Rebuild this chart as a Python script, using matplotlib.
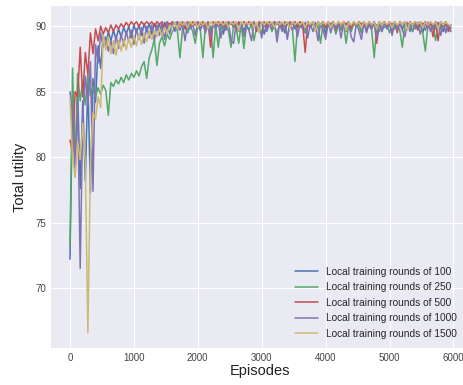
import numpy as np
import matplotlib
matplotlib.use('Agg')
import matplotlib.pyplot as plt

plt.style.use('seaborn-v0_8-darkgrid')
plt.rcParams['font.family'] = ['Liberation Sans', 'DejaVu Sans']

# one value every 40 episodes
util_100 = [
    72.2, 84.5, 78.5, 85.2, 77.6, 84.3, 78.2, 85.8, 77.3, 86.0,
    84.2, 88.5, 86.8, 89.3, 88.4, 89.6, 88.9, 89.7, 89.0, 89.8,
    89.2, 89.9, 89.4, 90.0, 89.1, 90.1, 89.5, 90.1, 89.3, 90.2,
    89.6, 90.2, 89.4, 90.2, 89.7, 90.2, 89.3, 90.3, 89.8, 90.2,
    90.0, 90.3, 89.7, 90.3, 90.1, 90.3, 89.5, 90.3, 90.0, 90.2,
    90.3, 89.8, 90.3, 90.1, 90.3, 89.6, 90.2, 90.3, 90.0, 90.3,
    89.4, 90.3, 90.1, 90.3, 89.9, 90.3, 90.1, 90.3, 89.6, 90.2,
    90.3, 90.0, 90.3, 89.7, 90.2, 90.3, 89.4, 90.3, 90.1, 90.3,
    89.9, 90.3, 90.1, 90.3, 89.5, 90.3, 90.0, 90.3, 89.8, 90.2,
    90.3, 90.0, 89.5, 90.3, 90.1, 90.3, 89.8, 90.3, 90.0, 90.2,
    89.4, 90.3, 90.1, 90.3, 89.9, 90.3, 89.7, 90.3, 90.1, 90.3,
    89.8, 90.3, 90.0, 90.2, 89.5, 90.3, 90.1, 90.3, 89.8, 90.3,
    90.0, 90.3, 89.6, 90.2, 90.1, 90.3, 89.5, 90.3, 90.0, 90.3,
    89.8, 90.3, 90.1, 90.2, 89.6, 90.3, 90.0, 90.3, 89.5, 90.2,
    90.1, 90.3, 89.8, 90.3, 90.0, 90.3, 89.6, 90.2, 89.9, 89.6,
]
util_250 = [
    73.2, 86.8, 79.5, 86.4, 84.3, 85.8, 84.0, 86.3, 84.7, 85.4,
    84.6, 85.3, 84.8, 85.5, 85.1, 83.2, 85.7, 85.4, 85.9, 85.6,
    86.1, 85.7, 86.3, 85.9, 86.4, 86.1, 86.6, 86.2, 86.9, 87.3,
    86.0, 87.6, 88.2, 89.0, 87.0, 88.7, 89.2, 88.5, 89.4, 89.0,
    89.6, 89.9, 89.7, 87.6, 89.8, 90.0, 89.5, 90.1, 89.6, 88.7,
    90.0, 89.7, 87.6, 90.1, 89.8, 90.0, 87.6, 90.1, 88.4, 90.1,
    89.8, 90.2, 89.6, 88.4, 90.1, 89.9, 88.7, 90.2, 88.3, 90.0,
    89.7, 90.2, 88.9, 90.0, 90.2, 89.5, 90.1, 89.9, 90.2, 89.6,
    90.1, 89.4, 90.2, 89.9, 90.1, 89.2, 90.2, 89.8, 87.3, 90.1,
    89.9, 90.2, 89.5, 90.1, 89.9, 90.2, 89.6, 90.1, 88.7, 90.2,
    89.8, 90.1, 89.9, 90.2, 89.4, 90.1, 89.8, 90.2, 88.7, 90.1,
    89.6, 90.2, 90.0, 90.1, 89.5, 90.2, 89.8, 90.1, 89.7, 87.6,
    90.1, 89.6, 90.2, 89.9, 90.1, 89.5, 90.2, 89.8, 90.1, 89.7,
    88.4, 90.2, 89.9, 90.1, 89.6, 90.2, 89.8, 90.1, 89.5, 88.1,
    90.1, 89.7, 90.2, 88.9, 90.1, 89.8, 90.2, 89.6, 90.1, 89.9,
]
util_500 = [
    81.3, 80.4, 85.0, 84.6, 88.4, 84.6, 88.0, 86.3, 89.5, 87.9,
    89.8, 88.9, 90.0, 89.4, 89.9, 89.5, 90.1, 89.6, 90.1, 89.8,
    90.2, 89.9, 90.3, 90.0, 90.35, 90.1, 90.35, 90.0, 90.35, 90.1,
    90.35, 90.15, 90.35, 90.0, 90.35, 90.15, 90.35, 89.9, 90.35, 90.1,
    90.35, 90.15, 90.35, 90.1, 90.35, 89.8, 90.35, 90.15, 90.35, 90.1,
    90.35, 90.15, 90.35, 89.9, 90.35, 88.4, 90.35, 90.1, 90.35, 90.15,
    90.35, 89.9, 90.35, 90.15, 90.35, 89.7, 90.35, 90.1, 90.35, 90.15,
    90.35, 90.1, 90.35, 89.6, 90.35, 90.15, 90.35, 89.9, 90.35, 90.1,
    90.35, 90.15, 90.35, 89.8, 90.35, 90.1, 90.35, 90.15, 90.35, 89.9,
    90.35, 90.15, 88.0, 90.35, 90.1, 90.35, 89.8, 90.35, 90.15, 90.35,
    89.9, 90.35, 90.15, 90.35, 89.7, 90.35, 90.1, 90.35, 90.15, 90.35,
    89.8, 90.35, 90.1, 90.35, 90.15, 90.35, 89.6, 90.35, 90.1, 90.35,
    88.7, 90.35, 90.15, 90.35, 89.9, 90.35, 90.1, 90.35, 89.5, 90.35,
    90.15, 90.35, 89.8, 90.35, 90.1, 90.35, 89.7, 90.35, 90.15, 90.35,
    89.9, 90.35, 89.2, 90.35, 88.9, 90.35, 90.1, 90.35, 89.6, 90.1,
]
util_1000 = [
    85.0, 83.5, 79.0, 84.3, 71.5, 83.2, 86.2, 84.0, 87.3, 77.4,
    88.6, 87.2, 89.5, 88.4, 89.2, 88.1, 88.9, 87.9, 89.3, 88.3,
    89.4, 88.5, 89.6, 88.8, 89.7, 88.6, 89.8, 89.0, 89.9, 88.7,
    90.0, 89.1, 90.1, 88.9, 90.1, 89.3, 90.2, 89.0, 90.2, 89.4,
    90.3, 89.6, 90.3, 89.7, 90.2, 88.9, 90.3, 89.8, 90.2, 89.3,
    90.3, 89.7, 90.2, 89.5, 90.3, 89.2, 90.2, 89.8, 90.3, 89.1,
    90.2, 89.7, 90.3, 88.9, 88.7, 90.2, 89.6, 90.3, 89.2, 90.2,
    89.7, 88.9, 90.3, 89.8, 90.2, 89.1, 90.3, 89.6, 90.2, 89.8,
    90.3, 88.8, 90.2, 89.6, 90.3, 89.0, 90.2, 89.7, 90.3, 89.2,
    90.2, 89.8, 90.3, 89.1, 90.2, 89.6, 90.3, 88.9, 90.2, 89.7,
    89.0, 90.3, 89.5, 90.2, 89.8, 90.3, 89.1, 90.2, 89.6, 90.3,
    89.2, 88.8, 90.2, 89.7, 89.0, 90.3, 89.5, 90.2, 89.8, 90.3,
    89.1, 90.2, 89.6, 90.3, 89.8, 90.2, 89.3, 90.3, 89.7, 90.2,
    89.7, 89.2, 90.3, 89.6, 90.2, 89.8, 90.3, 89.4, 90.2, 89.7,
    90.3, 89.6, 90.2, 89.8, 90.3, 89.3, 90.2, 89.5, 90.1, 89.8,
]
util_1500 = [
    84.5, 80.0, 78.5, 81.2, 79.8, 82.6, 79.6, 66.6, 79.5, 83.4,
    82.9, 84.6, 83.8, 89.3, 88.2, 89.2, 87.9, 88.9, 87.8, 88.9,
    88.1, 89.0, 88.2, 89.1, 88.4, 89.3, 88.5, 89.4, 88.6, 89.5,
    88.8, 89.6, 89.0, 89.7, 89.2, 89.8, 89.3, 89.9, 89.5, 90.1,
    89.9, 90.3, 89.8, 90.35, 90.1, 90.3, 89.9, 90.35, 90.1, 90.35,
    89.9, 90.35, 90.1, 90.3, 89.8, 90.35, 90.1, 90.35, 90.15, 90.3,
    90.1, 90.35, 89.9, 90.3, 90.15, 90.35, 89.7, 90.35, 90.1, 90.3,
    90.15, 90.35, 89.9, 90.3, 89.5, 90.35, 90.1, 90.35, 90.15, 90.3,
    89.9, 90.35, 90.15, 90.3, 90.1, 90.35, 89.8, 90.35, 90.15, 90.3,
    90.1, 90.35, 89.9, 90.3, 90.15, 90.35, 89.6, 90.35, 90.1, 90.3,
    90.15, 90.35, 89.9, 90.3, 90.1, 90.35, 90.15, 90.35, 89.7, 90.3,
    90.1, 90.35, 90.15, 90.3, 89.9, 90.35, 90.1, 90.35, 90.15, 90.3,
    89.8, 90.35, 90.1, 90.3, 90.15, 90.35, 89.9, 90.35, 90.1, 90.3,
    90.15, 90.35, 89.7, 90.3, 90.1, 90.35, 90.15, 90.35, 89.9, 90.3,
    90.1, 90.35, 90.15, 90.3, 89.8, 90.35, 90.1, 90.3, 90.15, 90.0,
]
episodes = np.arange(len(util_100)) * 40

series = [
    ('Local training rounds of 100', util_100, '#4C72B0'),
    ('Local training rounds of 250', util_250, '#55A868'),
    ('Local training rounds of 500', util_500, '#C44E52'),
    ('Local training rounds of 1000', util_1000, '#8172B2'),
    ('Local training rounds of 1500', util_1500, '#CCB974'),
]

fig = plt.figure(figsize=(4.63, 3.85), dpi=100)
ax = fig.add_axes([0.110, 0.096, 0.905, 0.888])

for name, vals, col in series:
    ax.plot(episodes, vals, color=col, lw=1.1, label=name)

ax.set_xticks([0, 1000, 2000, 3000, 4000, 5000, 6000])
ax.set_yticks([70, 75, 80, 85, 90])
ax.tick_params(labelsize=7, colors='#444444')
ax.set_xlabel('Episodes', fontsize=10.5, color='#222222', labelpad=1)
ax.set_ylabel('Total utility', fontsize=10.5, color='#222222', labelpad=6)

ax.legend(loc='lower right', bbox_to_anchor=(0.99, 0.0), fontsize=7.3,
          frameon=False, handlelength=2.2, handletextpad=0.8,
          labelspacing=0.55)

fig.savefig('out.png', dpi=100)
